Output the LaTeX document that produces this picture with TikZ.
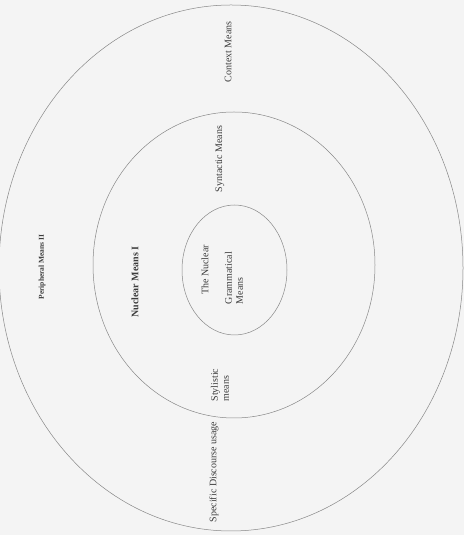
\documentclass[tikz,border=0pt]{standalone}
\usepackage{fontspec}
\setmainfont{Liberation Serif}
\usepackage{xcolor}
\usepackage{tikz}
\definecolor{PaperGray}{RGB}{244, 244, 244}
\definecolor{RingGray}{RGB}{135, 135, 135}
\definecolor{InkGray}{RGB}{60, 60, 60}
\tikzset{
  ring/.style={draw=RingGray, line width=0.5pt},
  lbl/.style={rotate=90, text=InkGray, inner sep=1pt,
    font=\fontsize{10}{11}\selectfont},
  lblbf/.style={lbl, font=\fontsize{10}{11}\selectfont\bfseries},
}
\begin{document}
\begin{tikzpicture}[x=1pt, y=1pt]
  \fill[PaperGray] (0,0) rectangle (464,535);
  \useasboundingbox (0,0) rectangle (464,535);
  \clip (0,0) rectangle (464,535);
  % the three rings
  \draw[ring] (231,267) ellipse [x radius=232, y radius=263];
  \draw[ring] (234,270) ellipse [x radius=141, y radius=153];
  \draw[ring] (234.5,265) ellipse [x radius=52.5, y radius=65];
  % labels
  \node[lblbf, font=\fontsize{7.5}{9}\selectfont\bfseries] (periph) at (42,268) {Peripheral Means II};
  \node[lblbf] (nucmeans) at (135,253) {Nuclear Means I};
  \node[lbl] (context) at (228,483) {Context Means};
  \node[lbl] (syntactic) at (220,376) {Syntactic Means};
  \node[lbl] (thenuc) at (205,265) {The Nuclear};
  \node[lbl, align=left] (grammar) at (234,257) {Grammatical\\Means};
  \node[lbl, align=left] (stylistic) at (220,150) {Stylistic\\means};
  \node[lbl] (discourse) at (214,63) {Specific Discourse usage};
\end{tikzpicture}
\end{document}
